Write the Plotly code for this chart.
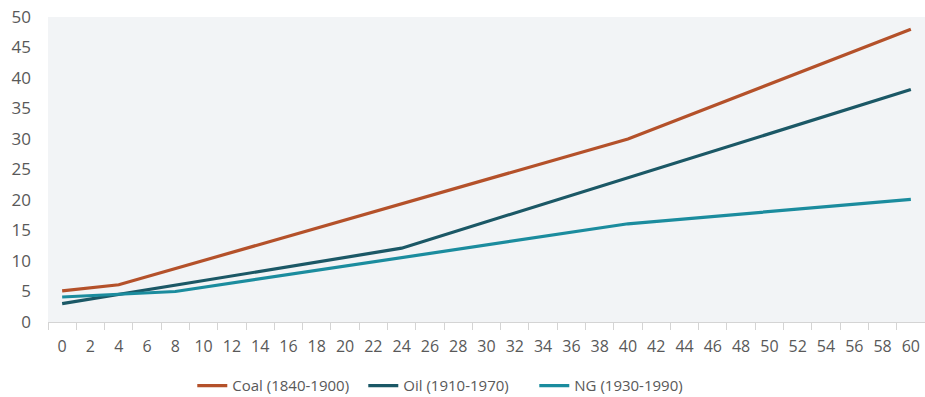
import plotly.graph_objects as go

# Years since start of each fuel's transition period
x_labels = [str(v) for v in range(0, 61, 2)]

coal_x = ["0", "4", "40", "60"]
coal_y = [5.1, 6.1, 30.0, 48.0]

oil_x = ["0", "4", "24", "60"]
oil_y = [3.0, 4.5, 12.1, 38.1]

ng_x = ["0", "4", "8", "40", "60"]
ng_y = [4.1, 4.5, 5.0, 16.1, 20.1]

y_ticks = list(range(0, 51, 5))

series = [
    ("Coal (1840-1900)", coal_x, coal_y, "#b4512a"),
    ("Oil (1910-1970)", oil_x, oil_y, "#1b5866"),
    ("NG (1930-1990)", ng_x, ng_y, "#1b8c9e"),
]

fig = go.Figure()
for name, xs, ys, color in series:
    fig.add_trace(go.Scatter(
        x=xs, y=ys, name=name, mode="lines",
        line=dict(color=color, width=3.2),
    ))

font_family = "Open Sans, Noto Sans, sans-serif"
text_color = "#595959"

fig.update_layout(
    width=925, height=397,
    margin=dict(l=48, r=0, t=17, b=75, autoexpand=False),
    paper_bgcolor="white",
    plot_bgcolor="#f2f4f6",
    font=dict(family=font_family, color=text_color, size=15),
    showlegend=True,
    legend=dict(
        orientation="h", x=0.457, xanchor="center", y=-0.155, yanchor="top",
        font=dict(size=15, color=text_color),
        itemwidth=30, tracegroupgap=0,
        entrywidth=126, entrywidthmode="pixels",
    ),
    xaxis=dict(
        type="category",
        categoryorder="array",
        categoryarray=x_labels,
        range=[-0.5, len(x_labels) - 0.5],
        tickson="boundaries",
        ticks="outside", ticklen=7, tickcolor="#d4d4d4", tickwidth=1,
        showline=True, linecolor="#d4d4d4", linewidth=1,
        showgrid=False, zeroline=False,
        tickfont=dict(size=16, color=text_color),
        ticklabelstandoff=10,
        fixedrange=True,
    ),
    yaxis=dict(
        range=[0, 50],
        tickvals=y_ticks,
        ticks="", showgrid=False, zeroline=False, showline=False,
        tickfont=dict(size=17, color=text_color),
        ticklabelstandoff=16,
        fixedrange=True,
    ),
)

fig.write_html("out.html")
